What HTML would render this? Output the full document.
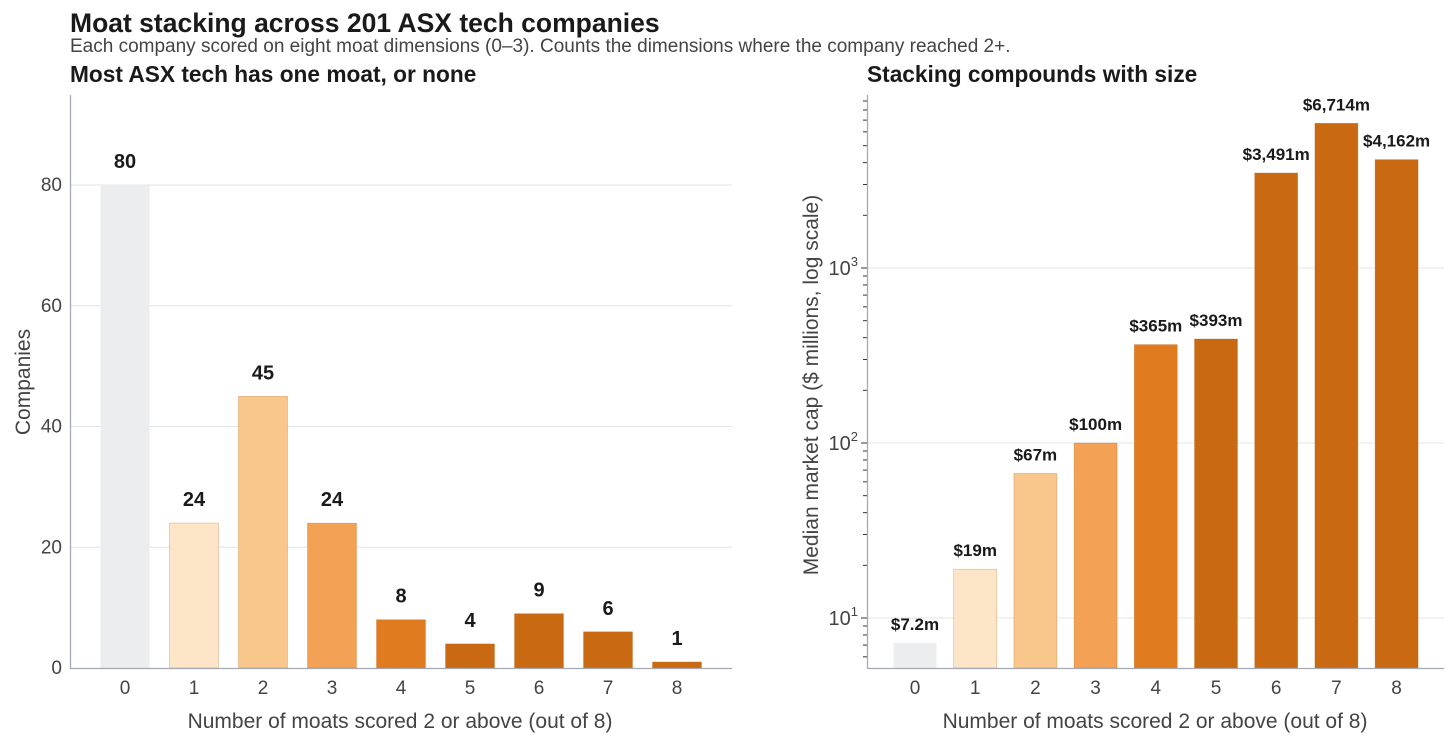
<!DOCTYPE html>
<html><head><meta charset="utf-8"><style>
body{margin:0;background:#fff;font-family:"Liberation Sans",sans-serif;}
svg text{font-family:"Liberation Sans",sans-serif;}
</style></head><body>
<svg id="c" width="1456" height="746" xmlns="http://www.w3.org/2000/svg">
<text x="70" y="32" font-size="26.5" font-weight="bold" fill="#1a1a1a">Moat stacking across 201 ASX tech companies</text>
<text x="70" y="52" font-size="19" fill="#444">Each company scored on eight moat dimensions (0–3). Counts the dimensions where the company reached 2+.</text>
<text x="70" y="82" font-size="22.7" font-weight="bold" fill="#1a1a1a">Most ASX tech has one moat, or none</text>
<text x="867" y="82" font-size="22.7" font-weight="bold" fill="#1a1a1a">Stacking compounds with size</text>
<g id="L"></g><g id="R"></g>
</svg>
<script>
const categories=["0","1","2","3","4","5","6","7","8"];
const companyCounts=[80,24,45,24,8,4,9,6,1];
const medianCaps=[7.2,19,67,100,365,393,3491,6714,4162];
const capLabels=["$7.2m","$19m","$67m","$100m","$365m","$393m","$3,491m","$6,714m","$4,162m"];
const leftTicks=[0,20,40,60,80];
const colors=["#ecedef","#fde5c8","#f9c78b","#f3a155","#e07b20","#c96a12","#c96a12","#c96a12","#c96a12"];
const NS="http://www.w3.org/2000/svg";
function mk(p,t,a,txt){const e=document.createElementNS(NS,t);for(const k in a)e.setAttribute(k,a[k]);if(txt!==undefined)e.textContent=txt;p.appendChild(e);return e;}
// Left
const L=document.getElementById('L');
const ly=v=>668-v*483/80, lx=i=>125+i*69;
leftTicks.forEach(t=>{
 if(t>0){const g=mk(L,'line',{x1:70,x2:732,y1:ly(t),y2:ly(t),stroke:'#e3e4e8','stroke-width':1});
 
 }
 const tx=mk(L,'text',{x:62,y:ly(t)+6,'font-size':19,fill:'#444','text-anchor':'end'},t);
 
 
});
companyCounts.forEach((v,i)=>{
 const r=mk(L,'rect',{x:lx(i)-24.5,y:ly(v),width:49,height:668-ly(v),fill:colors[i],stroke:i>0?'rgba(180,90,10,0.35)':'none','stroke-width':0.7});
 
 
 const t=mk(L,'text',{x:lx(i),y:ly(v)-17,'font-size':20,'font-weight':'bold',fill:'#1a1a1a','text-anchor':'middle'},String(v));
 
 
 const c=mk(L,'text',{x:lx(i),y:694,'font-size':19,fill:'#444','text-anchor':'middle'},categories[i]);
 
 
});
let a=mk(L,'path',{d:'M70.5 95 V668.5 H732',stroke:'#a5a8b5','stroke-width':1.3,fill:'none'});


a=mk(L,'text',{x:400,y:728,'font-size':21,fill:'#444','text-anchor':'middle'},'Number of moats scored 2 or above (out of 8)');


a=mk(L,'text',{x:30,y:382,'font-size':21,fill:'#444','text-anchor':'middle',transform:'rotate(-90 30 382)'},'Companies');


// Right
const R=document.getElementById('R');
const ry=v=>618-(Math.log10(v)-1)*175, rx=i=>915+i*60.2;
[1,2,3].forEach(p=>{
 const g=mk(R,'line',{x1:867,x2:1444,y1:ry(Math.pow(10,p)),y2:ry(Math.pow(10,p)),stroke:'#e3e4e8','stroke-width':1});
 
 
 const t=mk(R,'text',{x:858,y:ry(Math.pow(10,p))+7,'font-size':20,fill:'#444','text-anchor':'end'});
 
 
 t.appendChild(document.createTextNode('10'));
 mk(t,'tspan',{dy:-9,'font-size':13},String(p));
 mk(R,'line',{x1:861,x2:867,y1:ry(Math.pow(10,p)),y2:ry(Math.pow(10,p)),stroke:'#333','stroke-width':1});
});
for(let p=0;p<4;p++)for(let m=2;m<10;m++){const v=m*Math.pow(10,p);const y=ry(v);if(y<96||y>668)continue;
 const t=mk(R,'line',{x1:863,x2:867,y1:y,y2:y,stroke:'#333','stroke-width':1});
 
 }
medianCaps.forEach((v,i)=>{
 const r=mk(R,'rect',{x:rx(i)-21.5,y:ry(v),width:43,height:668-ry(v),fill:colors[i],stroke:i>0?'rgba(180,90,10,0.35)':'none','stroke-width':0.7});
 
 
 const t=mk(R,'text',{x:rx(i),y:ry(v)-13,'font-size':17,'font-weight':'bold',fill:'#1a1a1a','text-anchor':'middle'},capLabels[i]);
 
 
 const c=mk(R,'text',{x:rx(i),y:694,'font-size':19,fill:'#444','text-anchor':'middle'},categories[i]);
 
 
});
a=mk(R,'path',{d:'M867.5 95 V668.5 H1444',stroke:'#a5a8b5','stroke-width':1.3,fill:'none'});


a=mk(R,'text',{x:1155,y:728,'font-size':21,fill:'#444','text-anchor':'middle'},'Number of moats scored 2 or above (out of 8)');


a=mk(R,'text',{x:818,y:385,'font-size':21,fill:'#444','text-anchor':'middle',transform:'rotate(-90 818 385)'},'Median market cap  ($ millions, log scale)');


</script>
</body></html>
